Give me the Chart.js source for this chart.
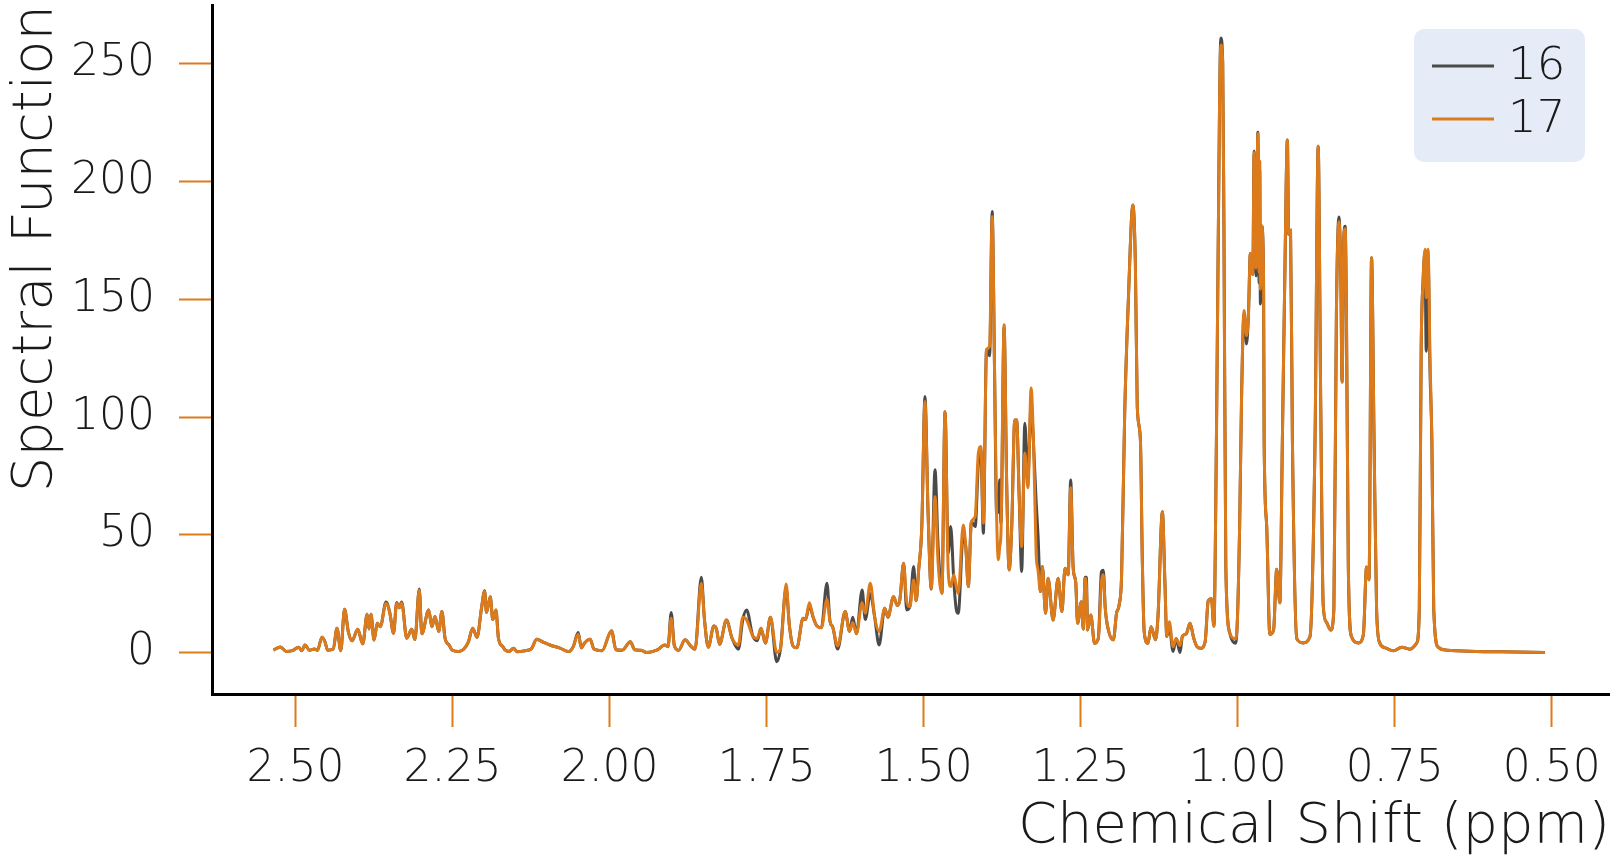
<!DOCTYPE html>
<html>
<head>
<meta charset="utf-8">
<script src="https://cdn.jsdelivr.net/npm/chart.js@4.4.1/dist/chart.umd.min.js"></script>
<style>
  html, body { margin: 0; padding: 0; background: #fff; }
  #wrap { width: 1619px; height: 855px; position: relative; }
</style>
</head>
<body>
<div id="wrap"><canvas id="spectrum"></canvas></div>
<script>
// chemical shift (ppm), shared by both traces
const ppm = [
  2.535, 2.524, 2.515, 2.505, 2.495, 2.490, 2.485, 2.478, 2.470, 2.465,
  2.458, 2.453, 2.449, 2.440, 2.434, 2.428, 2.422, 2.416, 2.410, 2.401,
  2.393, 2.386, 2.383, 2.380, 2.375, 2.370, 2.365, 2.356, 2.350, 2.344,
  2.339, 2.335, 2.331, 2.323, 2.315, 2.310, 2.303, 2.299, 2.288, 2.283,
  2.278, 2.272, 2.267, 2.262, 2.255, 2.251, 2.240, 2.232, 2.225, 2.218,
  2.211, 2.204, 2.199, 2.196, 2.190, 2.186, 2.181, 2.177, 2.170, 2.166,
  2.160, 2.153, 2.147, 2.135, 2.125, 2.116, 2.105, 2.095, 2.080, 2.065,
  2.058, 2.050, 2.045, 2.040, 2.031, 2.025, 2.012, 1.997, 1.990, 1.980,
  1.967, 1.960, 1.950, 1.941, 1.925, 1.912, 1.907, 1.902, 1.897, 1.890,
  1.880, 1.870, 1.864, 1.854, 1.849, 1.843, 1.834, 1.830, 1.825, 1.814,
  1.805, 1.795, 1.788, 1.782, 1.772, 1.765, 1.759, 1.752, 1.744, 1.734,
  1.728, 1.719, 1.714, 1.708, 1.702, 1.692, 1.688, 1.682, 1.676, 1.670,
  1.663, 1.654, 1.649, 1.645, 1.637, 1.625, 1.618, 1.613, 1.607, 1.598,
  1.593, 1.585, 1.578, 1.571, 1.562, 1.557, 1.548, 1.542, 1.538, 1.532,
  1.527, 1.522, 1.516, 1.512, 1.508, 1.503, 1.498, 1.493, 1.488, 1.482,
  1.477, 1.471, 1.466, 1.461, 1.457, 1.452, 1.448, 1.445, 1.437, 1.433,
  1.429, 1.424, 1.418, 1.413, 1.409, 1.405, 1.400, 1.395, 1.391, 1.387,
  1.384, 1.381, 1.379, 1.377, 1.372, 1.368, 1.364, 1.360, 1.355, 1.352,
  1.348, 1.344, 1.339, 1.334, 1.329, 1.325, 1.321, 1.318, 1.314, 1.311,
  1.306, 1.302, 1.294, 1.286, 1.280, 1.275, 1.270, 1.266, 1.262, 1.258,
  1.255, 1.249, 1.246, 1.243, 1.241, 1.239, 1.234, 1.228, 1.222, 1.217,
  1.214, 1.211, 1.206, 1.198, 1.193, 1.189, 1.185, 1.180, 1.174, 1.167,
  1.163, 1.160, 1.155, 1.152, 1.149, 1.143, 1.138, 1.131, 1.127, 1.120,
  1.116, 1.113, 1.109, 1.103, 1.098, 1.092, 1.088, 1.082, 1.076, 1.070,
  1.065, 1.059, 1.052, 1.047, 1.042, 1.038, 1.034, 1.029, 1.027, 1.024,
  1.022, 1.019, 1.013, 1.004, 1.001, 0.997, 0.994, 0.990, 0.986, 0.983,
  0.980, 0.976, 0.974, 0.971, 0.968, 0.966, 0.965, 0.964, 0.962, 0.959,
  0.958, 0.954, 0.949, 0.943, 0.938, 0.933, 0.929, 0.925, 0.921, 0.919,
  0.916, 0.913, 0.906, 0.896, 0.885, 0.877, 0.872, 0.868, 0.864, 0.859,
  0.852, 0.847, 0.843, 0.839, 0.836, 0.834, 0.831, 0.829, 0.827, 0.824,
  0.819, 0.808, 0.800, 0.795, 0.791, 0.787, 0.783, 0.779, 0.774, 0.765,
  0.752, 0.739, 0.726, 0.715, 0.711, 0.708, 0.705, 0.702, 0.700, 0.697,
  0.694, 0.691, 0.688, 0.681, 0.667, 0.620, 0.580, 0.511
];

// spectral function, trace "16"
const spec16 = [
  1, 2.4, 0.5, 0.8, 2.3, 0.8, 3.2, 1, 1.5, 1,
  6.5, 4.5, 1, 1.5, 10.3, 0.8, 18.4, 8.9, 5, 9.9,
  3.7, 16.3, 10, 16.3, 5.3, 12.4, 11, 21.5, 17, 8.2,
  21.3, 19, 21.5, 6.1, 9.9, 5.5, 27, 8, 18.1, 11,
  15.3, 9, 17.4, 6.1, 3, 1.1, 0.5, 1.5, 4.4, 10.3,
  6.5, 18.8, 26.3, 17, 23.7, 14, 18.1, 6.1, 2.5, 1,
  0.5, 1.8, 0.3, 0.8, 1.5, 5.6, 4.3, 3.2, 2, 0.4,
  2.5, 8.5, 2, 4, 5.6, 1.5, 0.8, 9.3, 1.2, 1,
  4.6, 1.2, 1, 0, 1, 3.2, 2.5, 17, 3, 1,
  5.4, 2.5, 1.4, 32, 14, 2.3, 11.3, 10, 3.5, 13.8,
  6, 1.4, 14, 18.1, 7, 5, 10.3, 4, 15, -3.9,
  1.5, 27.5, 12, 2.8, 2, 14.6, 14, 20, 15, 11.3,
  10.5, 29.4, 13, 11, 1.5, 17.4, 9, 15, 8, 26.6,
  14, 25, 15, 3.2, 18.8, 15, 23.7, 20, 22.3, 37.9,
  18.1, 19.5, 36.5, 22, 35.1, 53.5, 108.7, 59.2, 27, 77.6,
  45, 25.2, 102.3, 42.2, 53.5, 30, 18.1, 16.7, 50, 45,
  28, 55.6, 53.5, 80, 86, 50.7, 128.6, 126, 187.3, 115.8,
  59.2, 60, 73.4, 55, 138, 73.4, 35.1, 52.1, 98.8, 98.8,
  66.3, 34.4, 97.4, 75, 105, 87.5, 64.2, 50, 25.9, 36.5,
  16.7, 31.6, 13.8, 31.6, 17.4, 35.8, 33, 73.3, 36, 30,
  12.4, 21.6, 10, 32, 32, 9.6, 16, 3.9, 6, 34.4,
  35, 19, 9.6, 5.4, 16.7, 20, 32.2, 101.6, 151, 190.1,
  165, 104.4, 90.3, 40, 8.9, 3.9, 11, 5.4, 15.3, 59.8,
  30, 6.8, 11, 0.5, 6, 0, 7, 8, 12.4, 6,
  2.5, 1.8, 4.5, 22, 22.9, 11.2, 90, 233, 261, 250.8,
  179, 36, 8.6, 4, 11.2, 54, 107.8, 144, 131, 143.5,
  169.5, 160.5, 213, 160, 221, 157, 205, 148, 181.1, 161.4,
  90, 54, 7.7, 9.5, 35.4, 21.1, 90, 161.4, 217.7, 177.5,
  179.3, 90, 5.9, 4.1, 6.8, 90, 215, 107.8, 20.2, 13,
  9.5, 18.4, 143.5, 185, 161.4, 114.9, 177.5, 181, 143.5, 36.3,
  6.8, 4.1, 7.7, 36.3, 30.9, 167.7, 90, 18.4, 4.1, 2,
  0.8, 2.3, 1.4, 4.1, 18.4, 129.2, 157.8, 170, 128, 168,
  120, 90, 18.4, 2.3, 1, 0.5, 0.3, 0
];

// spectral function, trace "17"
const spec17 = [
  1, 2.4, 0.5, 0.8, 2.3, 0.8, 3.2, 1, 1.5, 1,
  6.5, 4.5, 1, 1.5, 10.3, 0.8, 18.4, 8.9, 5, 9.9,
  3.7, 16.3, 10, 16.3, 5.3, 12.4, 11, 20.9, 17, 8.2,
  20.9, 19, 21, 6.1, 9.9, 5.5, 26.6, 8, 18.1, 11,
  15.3, 9, 17.4, 6.1, 3, 1.1, 0.5, 1.5, 4.4, 10.3,
  6.5, 18.8, 25.9, 17, 23.7, 14, 18.1, 6.1, 2.5, 1,
  0.5, 1.8, 0.3, 0.8, 1.5, 5.6, 4.3, 3.2, 2, 0.4,
  2.5, 7.8, 2, 4, 5.6, 1.5, 0.8, 9.3, 1.2, 1,
  4.6, 1.2, 1, 0, 1, 3.2, 2.5, 14.6, 3, 1,
  5.4, 2.5, 1.4, 29.4, 14, 2.3, 11.3, 10, 3.5, 13.8,
  6, 3.2, 15, 14, 7, 6, 10.3, 4, 15, 0,
  1.5, 29.1, 12, 2.8, 2, 14.6, 14, 21.2, 15, 11.3,
  10.5, 22.5, 13, 11, 2.8, 17.4, 9, 12.8, 8, 21.2,
  16.7, 29.4, 15, 8.9, 18.8, 15, 23.7, 20, 22.3, 37.9,
  21.6, 19.5, 30.8, 22, 35.1, 53.5, 106.6, 59.2, 27.3, 66.2,
  37.9, 25.2, 102.3, 35, 28, 33, 28, 25.2, 54.2, 45,
  28, 55.6, 57.8, 84.7, 87.5, 55, 128.6, 130, 185.2, 115.8,
  59.2, 39.4, 45, 50.7, 139.2, 73.4, 35.1, 52.1, 98.8, 98.8,
  66.3, 45, 84.7, 70, 112.3, 87.5, 42.2, 35, 25.9, 36.5,
  16.7, 31.6, 13.8, 31.6, 17.4, 35.8, 33, 70, 36, 30,
  12.4, 21.6, 10, 31.6, 28, 9.6, 16, 3.9, 6, 30,
  33, 19, 9.6, 5.4, 16.7, 20, 32.2, 101.6, 151, 190.1,
  165, 104.4, 90.3, 40, 8.9, 3.9, 11, 5.4, 15.3, 59.8,
  30, 6.8, 13.1, 2.5, 6, 3, 7, 8, 12.4, 6,
  2.5, 1.8, 4.5, 22, 22.9, 11.2, 90, 233, 258, 250.8,
  179, 36, 8.6, 5.9, 11.2, 54, 107.8, 145.3, 134.6, 143.5,
  169.5, 160.5, 212.4, 163.2, 220.4, 161.4, 208.8, 154.3, 181.1, 161.4,
  90, 54, 7.7, 9.5, 35.4, 21.1, 90, 161.4, 217.7, 177.5,
  179.3, 90, 5.9, 4.1, 6.8, 90, 215, 107.8, 20.2, 13,
  9.5, 18.4, 143.5, 183, 161.4, 114.9, 177.5, 180, 143.5, 36.3,
  6.8, 4.1, 7.7, 36.3, 30.9, 167.7, 90, 18.4, 4.1, 2,
  0.8, 2.3, 1.4, 4.1, 18.4, 129.2, 157.8, 171.3, 150.7, 171.3,
  125.6, 90, 18.4, 2.3, 1, 0.5, 0.3, 0
];

const seriesNames = ['16', '17'];
const xTicks = [0.50, 0.75, 1.00, 1.25, 1.50, 1.75, 2.00, 2.25, 2.50];
const yTicks = [0, 50, 100, 150, 200, 250];

const GRAY = '#4a4a4a';
const ORANGE = '#dd7a1a';
const FONT = 'DejaVu Sans';

const toPoints = (vals) => ppm.map((x, i) => ({ x: x, y: vals[i] }));

// legend box inside the plot (top right) and the x title, right aligned
const extras = {
  id: 'extras',
  afterDatasetsDraw(chart) {
    const ctx = chart.ctx;
    ctx.save();
    ctx.fillStyle = '#e5ecf7';
    ctx.beginPath();
    ctx.roundRect(1414, 29, 171, 133, 10);
    ctx.fill();
    const rows = [[GRAY, 66], [ORANGE, 119]];
    rows.forEach((r, i) => {
      ctx.strokeStyle = r[0];
      ctx.lineWidth = 3;
      ctx.beginPath();
      ctx.moveTo(1432, r[1]);
      ctx.lineTo(1494, r[1]);
      ctx.stroke();
      ctx.fillStyle = '#1a1a1a';
      ctx.font = '200 45px "' + FONT + '"';
      ctx.textBaseline = 'middle';
      ctx.textAlign = 'left';
      ctx.fillText(seriesNames[i], 1508, r[1] + 1);
    });

    ctx.fillStyle = '#1a1a1a';
    ctx.font = '200 56px "' + FONT + '"';
    ctx.textAlign = 'right';
    ctx.textBaseline = 'alphabetic';
    ctx.fillText('Chemical Shift (ppm)', 1610, 842);
    ctx.restore();
  }
};

new Chart(document.getElementById('spectrum'), {
  type: 'line',
  data: {
    datasets: [
      {
        label: seriesNames[0],
        data: toPoints(spec16),
        borderColor: GRAY,
        borderWidth: 3,
        pointRadius: 0,
        cubicInterpolationMode: 'monotone',
        order: 2,
      },
      {
        label: seriesNames[1],
        data: toPoints(spec17),
        borderColor: ORANGE,
        borderWidth: 3,
        pointRadius: 0,
        cubicInterpolationMode: 'monotone',
        order: 1,
      },
    ],
  },
  options: {
    responsive: true,
    maintainAspectRatio: false,
    animation: false,
    layout: { padding: { left: 0, top: 5, right: 10, bottom: 0 } },
    plugins: {
      legend: { display: false },
      tooltip: { enabled: false },
    },
    scales: {
      x: {
        type: 'linear',
        reverse: true,
        min: 0.409,
        max: 2.633,
        afterBuildTicks: (s) => { s.ticks = xTicks.map(v => ({ value: v })); },
        afterFit: (s) => { s.height = 161; s.paddingLeft = 0; s.paddingRight = 0; },
        ticks: {
          callback: (v) => Number(v).toFixed(2),
          font: { family: FONT, size: 44, weight: '200' },
          color: '#1a1a1a',
          padding: 16,
          maxRotation: 0,
        },
        grid: {
          drawOnChartArea: false,
          drawTicks: true,
          tickLength: 33,
          tickColor: ORANGE,
          tickWidth: 2,
        },
        border: { display: true, color: '#000', width: 3 },
      },
      y: {
        type: 'linear',
        min: -17.6,
        max: 275,
        afterBuildTicks: (s) => { s.ticks = yTicks.map(v => ({ value: v })); },
        afterFit: (s) => { s.width = 212; s.paddingTop = 0; s.paddingBottom = 0; },
        ticks: {
          font: { family: FONT, size: 44, weight: '200' },
          color: '#1a1a1a',
          padding: 24,
        },
        grid: {
          drawOnChartArea: false,
          drawTicks: true,
          tickLength: 33,
          tickColor: ORANGE,
          tickWidth: 2,
        },
        border: { display: true, color: '#000', width: 3 },
        title: {
          display: true,
          text: 'Spectral Function',
          align: 'end',
          color: '#1a1a1a',
          font: { family: FONT, size: 56, weight: '200', lineHeight: 1 },
          padding: { top: 8, bottom: 0 },
        },
      },
    },
  },
  plugins: [extras],
});
</script>
</body>
</html>
